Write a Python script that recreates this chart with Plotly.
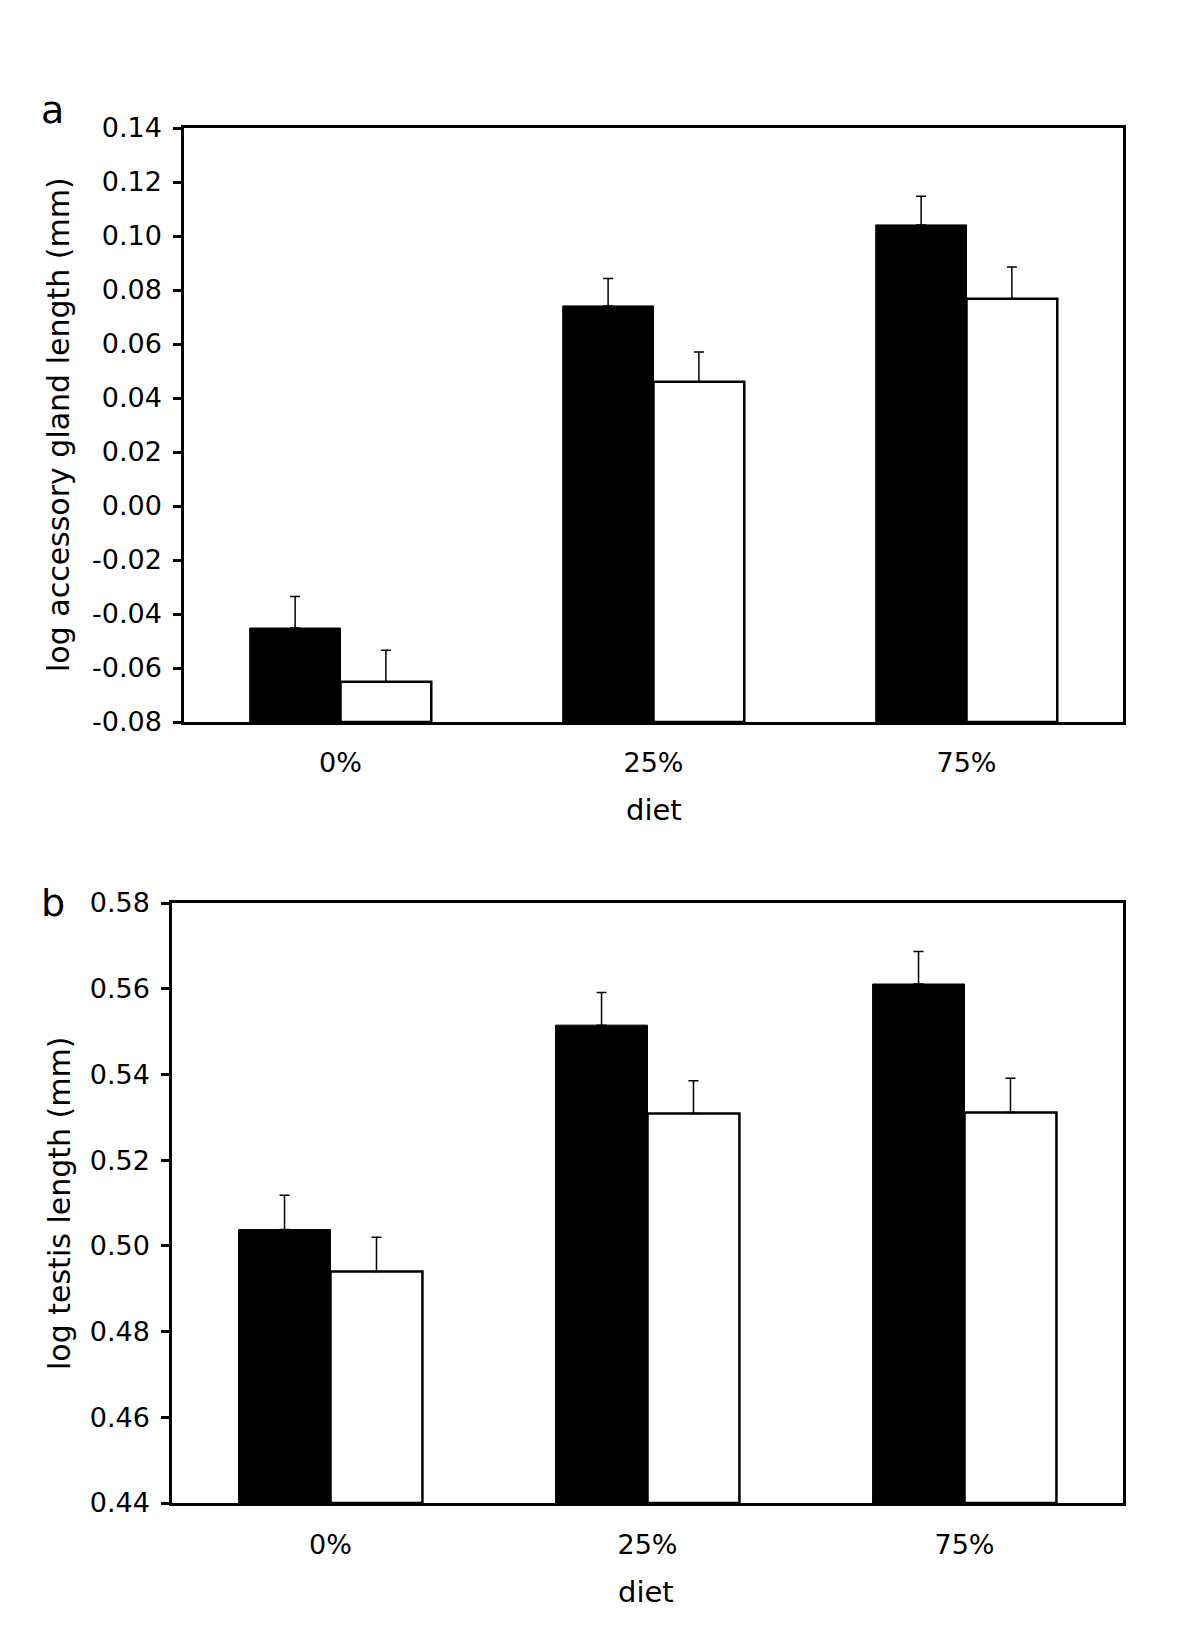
import plotly.graph_objects as go

categories = ["0%", "25%", "75%"]

# Panel a: log accessory gland length (mm)
a_black = [-0.0452, 0.0741, 0.1041]
a_black_err = [0.0117, 0.0102, 0.0106]
a_white = [-0.0651, 0.0460, 0.0768]
a_white_err = [0.0117, 0.0110, 0.0117]
a_ticks = [0.14, 0.12, 0.10, 0.08, 0.06, 0.04, 0.02, 0.00, -0.02, -0.04, -0.06, -0.08]
a_range = [-0.08, 0.14]

# Panel b: log testis length (mm)
b_black = [0.5038, 0.5515, 0.5611]
b_black_err = [0.0080, 0.0076, 0.0076]
b_white = [0.4940, 0.5309, 0.5311]
b_white_err = [0.0080, 0.0076, 0.0080]
b_ticks = [0.58, 0.56, 0.54, 0.52, 0.50, 0.48, 0.46, 0.44]
b_range = [0.44, 0.58]

FONT = "DejaVu Sans"
OFF = 8  # page body margin offset in the screenshot
fig = go.Figure()


def add_pair(black, berr, white, werr, base, xa, ya):
    for vals, err, fill, lw in ((black, berr, "black", 1), (white, werr, "white", 2.5)):
        fig.add_trace(go.Bar(
            x=categories, y=[v - base for v in vals], base=base,
            xaxis=xa, yaxis=ya,
            marker=dict(color=fill, line=dict(color="black", width=lw)),
            error_y=dict(type="data", array=err, symmetric=False, arrayminus=[0] * len(err),
                         color="black", thickness=1.5, width=5),
            showlegend=False,
        ))


add_pair(a_black, a_black_err, a_white, a_white_err, a_range[0], "x", "y")
add_pair(b_black, b_black_err, b_white, b_white_err, b_range[0], "x2", "y2")

axis_common = dict(showline=True, linecolor="black", linewidth=2.5, mirror=True,
                   showgrid=False, zeroline=False, automargin=False,
                   tickfont=dict(family=FONT, size=27, color="black"))
xfont = dict(family=FONT, size=27, color="black")


def dx(px):
    return (px - OFF) / 1200


def dy(px):
    return 1 - (px - OFF) / 1650


fig.update_layout(
    width=1200, height=1650,
    margin=dict(l=0, r=0, t=0, b=0, autoexpand=False),
    paper_bgcolor="white", plot_bgcolor="white",
    barmode="group", bargap=0.42, bargroupgap=0,
    xaxis=dict(domain=[dx(184), dx(1123)], anchor="y", ticks="", ticklabelstandoff=15,
               **{**axis_common, "tickfont": xfont}),
    yaxis=dict(domain=[dy(722), dy(128)], anchor="x", range=a_range,
               tickvals=a_ticks, ticktext=[f"{t:.2f}" for t in a_ticks],
               ticks="outside", ticklen=8, tickwidth=2.5, tickcolor="black",
               ticklabelstandoff=6, **axis_common),
    xaxis2=dict(domain=[dx(172), dx(1123)], anchor="y2", ticks="", ticklabelstandoff=16,
                **{**axis_common, "tickfont": xfont}),
    yaxis2=dict(domain=[dy(1503), dy(903)], anchor="x2", range=b_range,
                tickvals=b_ticks, ticktext=[f"{t:.2f}" for t in b_ticks],
                ticks="outside", ticklen=8, tickwidth=2.5, tickcolor="black",
                ticklabelstandoff=6, **axis_common),
)


def ann(text, x, y, size=30, angle=0):
    fig.add_annotation(text=text, x=dx(x), y=dy(y), xref="paper", yref="paper",
                       showarrow=False, textangle=angle, xanchor="center", yanchor="middle",
                       font=dict(family=FONT, size=size, color="black"))


ann("log accessory gland length (mm)", 59, 425, angle=-90)
ann("log testis length (mm)", 59, 1204, angle=-90)
ann("diet", 654, 810, size=29)
ann("diet", 646, 1592, size=29)
ann("a", 52, 110, size=38)
ann("b", 53, 903, size=38)

fig.write_html("out.html")
